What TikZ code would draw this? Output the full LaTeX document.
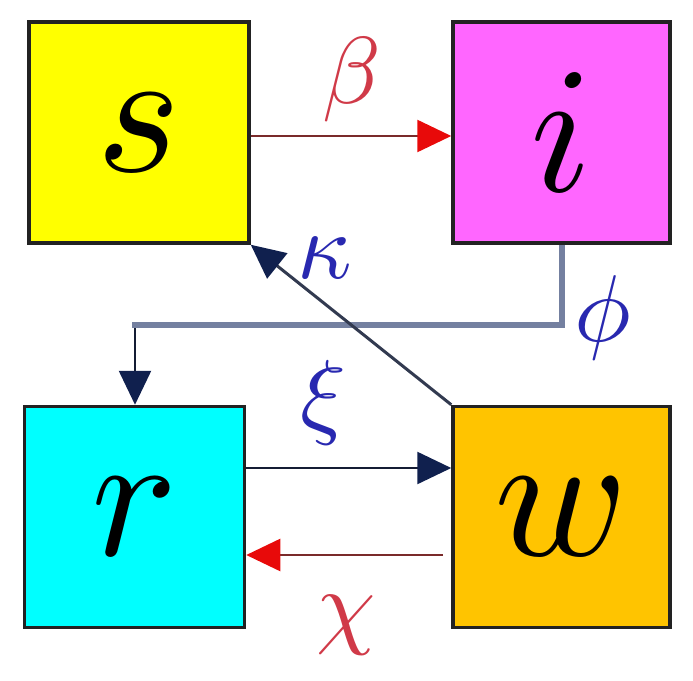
\documentclass[tikz,border=0pt]{standalone}
\usetikzlibrary{arrows.meta}
\definecolor{cS}{HTML}{FFFF00}
\definecolor{cI}{HTML}{FF66FF}
\definecolor{cR}{HTML}{00FFFF}
\definecolor{cW}{HTML}{FFC400}
\definecolor{bd}{HTML}{222222}
\definecolor{navyline}{HTML}{141C34}
\definecolor{navyhead}{HTML}{10204E}
\definecolor{redline}{HTML}{7A2A2A}
\definecolor{redhead}{HTML}{E80A0A}
\definecolor{slate}{HTML}{7480A0}
\definecolor{diagline}{HTML}{323A50}
\definecolor{lblue}{HTML}{2828B0}
\definecolor{lred}{HTML}{D03A48}
\newcommand{\bigletter}[1]{\scalebox{18}{$#1$}}
\newcommand{\midletter}[1]{\scalebox{9.5}{$#1$}}
\tikzset{
  box/.style={draw=bd, line width=3.5pt, minimum width=220pt, minimum height=221pt, inner sep=0pt},
  navyarrow/.style={draw=navyline, line width=2.5pt, -{Triangle[length=34pt,width=32pt,color=navyhead,fill=navyhead]}},
  redarrow/.style={draw=redline, line width=2.5pt, -{Triangle[length=34pt,width=32pt,color=redhead,fill=redhead]}},
  diagarrow/.style={draw=diagline, line width=3pt, -{Triangle[length=34pt,width=32pt,color=navyhead,fill=navyhead]}},
  slateline/.style={draw=slate, line width=6pt},
  lab/.style={inner sep=0pt},
}
\begin{document}
\begin{tikzpicture}[x=1pt,y=-1pt]
\useasboundingbox (0,0) rectangle (693,680);
\node[box, fill=cS] (s) at (139,132.5) {\bigletter{s}};
\node[box, fill=cI, minimum width=217pt] (i) at (561.5,132.5) {\bigletter{i}};
\node[box, fill=cR] (r) at (134.5,517) {\bigletter{r}};
\node[box, fill=cW, minimum width=217pt] (w) at (561.5,517) {\bigletter{w}};
% coordinates
\coordinate (ysi) at (0,136);
\coordinate (yrw) at (0,468);
\coordinate (ywr) at (0,555);
\coordinate (wrstart) at (443,555);
\coordinate (corner1) at (562,325);
\coordinate (corner2) at (135,325);
% connectors
\draw[redarrow] (s.east |- ysi) -- (i.west |- ysi);
\draw[slateline] (i.south -| corner1) -- (corner1) -- ([xshift=-3pt]corner2);
\draw[navyarrow] ([yshift=-3pt]corner2) -- (r.north -| corner2);
\draw[diagarrow] (w.north west) -- (s.south east);
\draw[navyarrow] (r.east |- yrw) -- (w.west |- yrw);
\draw[redarrow] (wrstart) -- (r.east |- ywr);
% labels
\node[lab, text=lred] (beta) at (352,80) {\midletter{\beta}};
\node[lab, text=lblue] (kappa) at (325,258) {\midletter{\kappa}};
\node[lab, text=lblue] (phi) at (603,318) {\midletter{\phi}};
\node[lab, text=lblue] (xi) at (323,403) {\midletter{\xi}};
\node[lab, text=lred] (chi) at (346,625) {\midletter{\chi}};
\end{tikzpicture}
\end{document}
